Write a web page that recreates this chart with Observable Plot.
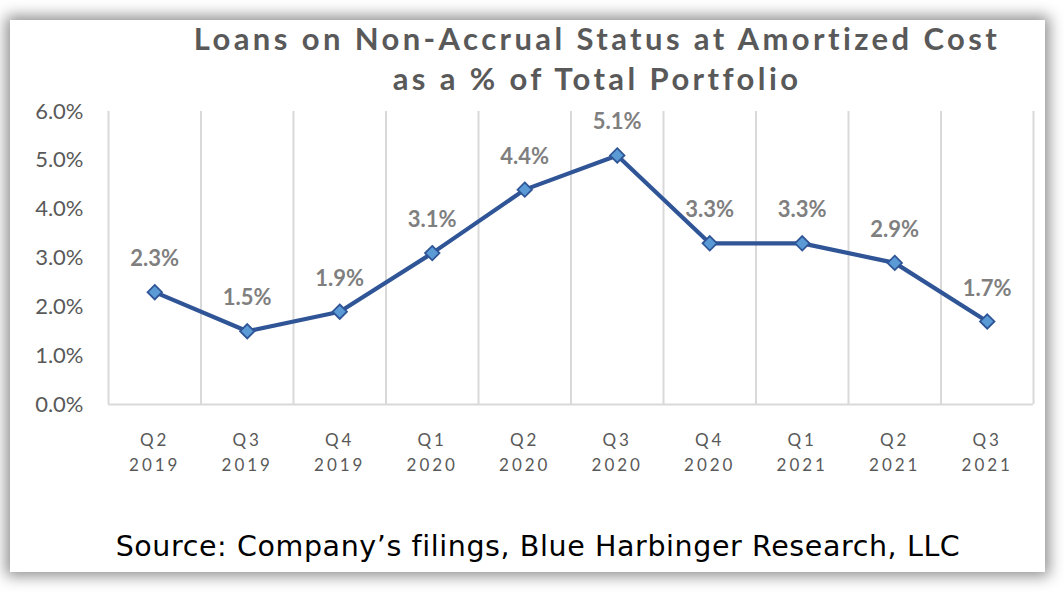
<!DOCTYPE html>
<html><head><meta charset="utf-8">
<script src="https://cdn.jsdelivr.net/npm/d3@7"></script>
<script src="https://cdn.jsdelivr.net/npm/@observablehq/plot@0.6"></script>
<style>
html,body{margin:0;padding:0;background:#fff;width:1064px;height:592px;overflow:hidden;font-family:Lato,"Open Sans",sans-serif;}
#card{position:absolute;left:10px;top:20px;width:1035px;height:552px;background:#fff;box-shadow:0 0 14px 4px rgba(0,0,0,0.45);}
.t{position:absolute;white-space:nowrap;font-weight:700;color:#595959;font-size:31px;letter-spacing:3.4px;transform:translateX(-50%);}
#chart{position:absolute;left:0;top:100px;}
#source{position:absolute;left:538px;top:530px;transform:translateX(-50%);white-space:nowrap;font-family:"DejaVu Sans","Open Sans",sans-serif;font-size:28.5px;color:#000;letter-spacing:0.6px;}
</style></head>
<body>
<div id="card"></div>
<div class="t" style="left:597px;top:19px">Loans on Non-Accrual Status at Amortized Cost</div>
<div class="t" style="left:597px;top:59px">as a % of Total Portfolio</div>
<div id="chart"></div>
<div id="source">Source: Company’s filings, Blue Harbinger Research, LLC</div>
<script>
const quarters = ["Q2","Q3","Q4","Q1","Q2","Q3","Q4","Q1","Q2","Q3"];
const years = ["2019","2019","2019","2020","2020","2020","2020","2021","2021","2021"];
const values = [2.3,1.5,1.9,3.1,4.4,5.1,3.3,3.3,2.9,1.7];
const yTicks = [0,1,2,3,4,5,6];

const data = values.map((v,i)=>({i, v}));
const bounds = d3.range(values.length).map(i=>i+0.5);

const chart = Plot.plot({
  width:1064, height:380,
  marginLeft:108, marginRight:31, marginTop:11, marginBottom:76,
  style:{fontFamily:"Lato, 'Open Sans', sans-serif", background:"transparent", overflow:"visible"},
  x:{domain:[-0.5, values.length-0.5], label:null},
  y:{domain:[0,6], label:null},
  marks:[
    Plot.ruleX([-0.5], {stroke:"#d9d9d9", strokeWidth:2}),
    Plot.ruleX(bounds, {stroke:"#d9d9d9", strokeWidth:2}),
    Plot.ruleY([0], {stroke:"#d9d9d9", strokeWidth:2}),
    Plot.axisY({ticks:yTicks, tickFormat:d=>d.toFixed(1)+"%", tickSize:0, tickPadding:25, fontSize:22, fill:"#595959", label:null}),
    Plot.axisX({ticks:d3.range(values.length), tickFormat:i=>quarters[i]+"\n"+years[i], tickSize:0, tickPadding:24, fontSize:17, fill:"#595959", lineHeight:1.45, label:null}),
    Plot.line(data, {x:"i", y:"v", stroke:"#2F5597", strokeWidth:4.2}),
    Plot.dot(data, {x:"i", y:"v", symbol:"diamond2", r:6.5, fill:"#5B9BD5", stroke:"#2F5597", strokeWidth:1.8}),
    Plot.text(data, {x:"i", y:"v", text:d=>d.v.toFixed(1)+"%", dy:-33, fontSize:22, fontWeight:"bold", fill:"#7f7f7f"})
  ]
});
document.getElementById("chart").appendChild(chart);
chart.querySelectorAll("[aria-label='x-axis tick label'] text").forEach(t=>t.style.letterSpacing="3px");
</script>
</body></html>
